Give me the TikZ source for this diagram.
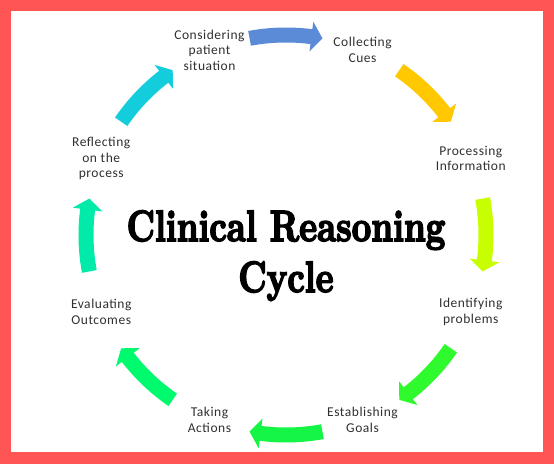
\documentclass[tikz,border=0pt]{standalone}
\usepackage{fontspec}
\setmainfont{Carlito}
\newfontfamily\labfont{Carlito}[LetterSpace=4]
\newfontfamily\titlefont{lmroman10-bold}[Extension=.otf, FakeBold=4]
\definecolor{framered}{HTML}{FF5555}
\definecolor{labgray}{HTML}{303030}
\definecolor{arblue}{HTML}{5B8BD6}
\definecolor{aryellow}{HTML}{FFC800}
\definecolor{arlime}{HTML}{C8FF00}
\definecolor{argreenA}{HTML}{2EFA2E}
\definecolor{argreenB}{HTML}{14F546}
\definecolor{argreenC}{HTML}{00FA6E}
\definecolor{arteal}{HTML}{00EBAA}
\definecolor{arcyan}{HTML}{14CDDC}
\tikzset{
  lab/.style={font=\labfont\fontsize{13.5}{15.8}\selectfont, text=labgray, align=center, inner sep=0pt},
  titletext/.style={font=\titlefont\fontsize{43.7}{52}\selectfont, text=black, inner sep=0pt, anchor=base}
}
% #1 mid angle, #2 colour
\newcommand{\cycarrow}[2]{%
  \fill[#2] (#1+10.5:207.5pt) arc[start angle=#1+10.5, end angle=#1-7.3, radius=207.5pt]
    -- (#1-7.3:215pt) -- (#1-10.5:200pt) -- (#1-7.3:185pt) -- (#1-7.3:192.5pt)
    arc[start angle=#1-7.3, end angle=#1+10.5, radius=192.5pt] -- cycle;}
\begin{document}
\begin{tikzpicture}[x=1pt,y=1pt]
\fill[framered] (0,0) rectangle (554,464);
\fill[white] (11.3,11.7) rectangle (543.3,453);
\useasboundingbox (0,0) rectangle (554,464);
\coordinate (c) at (286,229);
\begin{scope}[shift={(c)}]
  \cycarrow{90}{arblue}
  \cycarrow{45}{aryellow}
  \cycarrow{0}{arlime}
  \cycarrow{-45}{argreenA}
  \cycarrow{-90}{argreenB}
  \cycarrow{-135}{argreenC}
  \cycarrow{180}{arteal}
  \cycarrow{135}{arcyan}
  \node[lab] (consider) at (112.5:200pt) {Considering\\patient\\situation};
  \node[lab] (collect) at (67.5:200pt) {Collecting\\Cues};
  \node[lab] (process) at (22.5:200pt) {Processing\\Information};
  \node[lab] (identify) at (-22.5:200pt) {Identifying\\problems};
  \node[lab] (establish) at (-67.5:200pt) {Establishing\\Goals};
  \node[lab] (taking) at (-112.5:200pt) {Taking\\Actions};
  \node[lab] (evaluate) at (-157.5:200pt) {Evaluating\\Outcomes};
  \node[lab] (reflect) at (157.5:200pt) {Reflecting\\on the\\process};
\end{scope}
\node[titletext] (title1) at (286,223) {\scalebox{0.78}[1]{Clinical Reasoning}};
\node[titletext] (title2) at (286,172) {\scalebox{0.78}[1]{Cycle}};
\end{tikzpicture}
\end{document}
